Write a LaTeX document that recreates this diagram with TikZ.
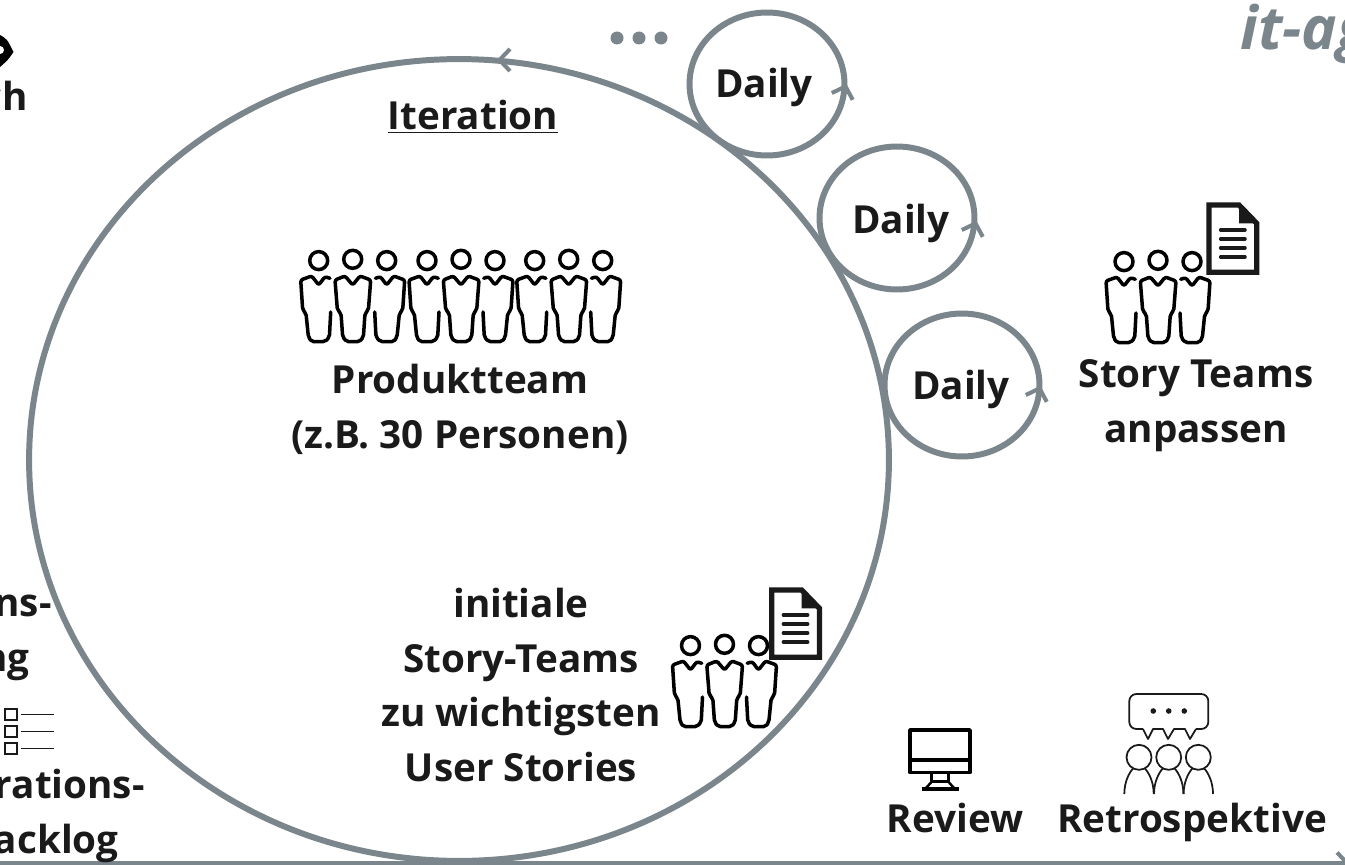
\documentclass[tikz,border=0pt]{standalone}
\usepackage{fontspec}
\setmainfont{Open Sans}
\usetikzlibrary{shapes.geometric}
\definecolor{loopgray}{HTML}{7B858C}
\definecolor{inkblack}{HTML}{1A1A1A}
\tikzset{
	label/.style={font=\fontsize{22}{31.2}\bfseries\selectfont,text=inkblack,align=center,inner sep=0pt},
	loopline/.style={draw=loopgray,line width=3.4pt},
	dailyloop/.style={loopline,ellipse,minimum width=3.1cm,minimum height=2.86cm,inner sep=0pt,outer sep=0pt},
	tipmark/.pic={
		\draw[draw=loopgray,line width=2.3pt,line join=miter] (-11,12) -- (0,1.5) -- (11,12);
	},
	man/.style={draw=black,line width=2pt,line join=round,line cap=round,rounded corners=1.2pt},
	manfull/.pic={
		\draw[man] (0,-25.7) circle [radius=9];
		\draw[man] (-17.7,-5) -- (-7.7,-9) -- (0,0) -- (7.3,-9) -- (18,-5) -- (15.7,25) -- (12.3,28.3) -- (10.7,52) -- (6.7,56.7) -- (-6,56.7) -- (-10,52) -- (-11.7,28.3) -- (-15.3,25) -- cycle;
	},
	manpart/.pic={
		\draw[man] (0,-24.4) circle [radius=9];
		\draw[man] (11.3,-6.7) -- (6.3,-8.3) -- (0,0) -- (-7,-9) -- (-18,-5) -- (-16,25) -- (-12.7,28.3) -- (-10.3,52) -- (-7,56.7) -- (6.3,56.7) -- (10.7,52) -- (12,27);
	},
	teamthree/.pic={
		\pic at (-34,0) {manpart};
		\pic at (0,0) {manfull};
		\pic[xscale=-1] at (34,0) {manpart};
	},
	docsheet/.pic={
		\draw[draw=inkblack,line width=3pt,line join=miter] (0,0) -- (30,0) -- (47.7,18.3) -- (47.7,67.3) -- (0,67.3) -- cycle;
		\fill[inkblack] (30,0) -- (47.7,18.3) -- (30,18.3) -- cycle;
		\foreach \rowy in {25,34,43,52}
			\draw[draw=inkblack,line width=2pt,line cap=round] (11.7,\rowy) -- (36,\rowy);
	}
}
\begin{document}
\begin{tikzpicture}[x=0.02cm,y=-0.02cm]
	\path[use as bounding box,clip] (0,0) rectangle (1345,865);
	\fill[white] (0,0) rectangle (1345,865);

	% loops
	\node[loopline,ellipse,minimum width=17.2cm,minimum height=16.04cm,inner sep=0pt,outer sep=0pt] (iteration) at (459,460) {};
	\node[dailyloop] (daily1) at (767,84) {};
	\node[dailyloop] (daily2) at (897,218) {};
	\node[dailyloop] (daily3) at (962,385) {};

	\pic[rotate=90] at (498,60) {tipmark};
	\pic[rotate=-18] at (846,85) {tipmark};
	\pic[rotate=-18] at (976,222) {tipmark};
	\pic[rotate=-18] at (1040,387) {tipmark};

	\foreach \dotx in {617,639,661}
		\fill[loopgray] (\dotx,38) circle [radius=6.5];

	% time line
	\coordinate (linestart) at (0,863.5);
	\coordinate (lineend) at (1349,863.5);
	\draw[draw=loopgray,line width=2.8pt] (linestart) -- (lineend);
	\pic[rotate=-90] at (lineend) {tipmark};

	% texts
	\node[label,anchor=base] (itertitle) at (473,130) {\underline{Iteration}};
	\node[label,anchor=base] (dailytext1) at (764,98) {Daily};
	\node[label,anchor=base] (dailytext2) at (901,233) {Daily};
	\node[label,anchor=base] (dailytext3) at (961,399) {Daily};
	\node[label] (produkt) at (460,409) {Produktteam\\(z.B. 30 Personen)};
	\node[label] (initial) at (521,685) {initiale\\Story-Teams\\zu wichtigsten\\User Stories};
	\node[label] (anpassen) at (1196,406) {Story Teams\\anpassen};
	\node[label,anchor=base] (review) at (955,832) {Review};
	\node[label,anchor=base] (retro) at (1192,832) {Retrospektive};
	\node[label,anchor=base east] (leftch) at (28,111) {ch};
	\node[label,anchor=base east] (leftns) at (52,616) {ns-};
	\node[label,anchor=base east] (leftng) at (30,671) {ng};
	\node[label,anchor=base east] (leftrat) at (145,798) {rations-};
	\node[label,anchor=base east] (leftack) at (119,853) {acklog};
	\node[anchor=base west,inner sep=0pt,text=loopgray,font=\fontsize{34}{34}\bfseries\itshape\selectfont] (brand) at (1240,50) {it-ag};

	% people
	\pic at (352.7,285) {teamthree};
	\pic at (461,285) {teamthree};
	\pic at (568.7,285) {teamthree};
	\pic at (724.5,670) {teamthree};
	\pic at (1158,286) {teamthree};
	\pic at (771.7,590) {docsheet};
	\pic at (1209,205) {docsheet};

	% eye, cut off at the margin
	\fill[black] (0,35) .. controls (7,39) .. (13.5,52) .. controls (8,60) .. (0,67) -- cycle;
	\fill[white] (0,50) circle [radius=4];

	% checklist
	\foreach \rowy in {709.3,726,743.3} {
		\draw[draw=inkblack,line width=1pt] (5,\rowy) rectangle ++(11.7,10.7);
		\draw[draw=inkblack,line width=0.8pt] (20.7,\rowy+5.2) -- (54,\rowy+5.2);
	}

	% monitor
	\draw[draw=black,line width=2pt,line join=round] (910,730) rectangle (970,772.7);
	\draw[draw=black,line width=2pt] (910,760) -- (970,760);
	\draw[draw=black,line width=2pt] (931.7,772.7) -- (931.7,781.7) -- (948.3,781.7) -- (948.3,772.7);
	\draw[draw=black,line width=1.4pt] (931.7,781.7) -- (926,788) (948.3,781.7) -- (954,788);
	\draw[draw=black,line width=2.2pt] (921.7,789) -- (959,789);

	% retrospective group
	\draw[draw=inkblack,line width=1pt,line join=round,rounded corners=4pt] (1143,729) -- (1129.3,729) -- (1129.3,694) -- (1208.3,694) -- (1208.3,729) -- (1196,729);
	\draw[draw=inkblack,line width=1pt,line join=round] (1143,729) -- (1148,739) -- (1153,729) -- (1163,729) -- (1168,739) -- (1174,729) -- (1185,729) -- (1190,739) -- (1196,729);
	\foreach \dotx in {1153.3,1168.7,1184.3}
		\fill[inkblack] (\dotx,711) circle [radius=2.8];
	\foreach \headx in {1139,1168.7,1198.3} {
		\draw[draw=inkblack,line width=1pt] (\headx,757.3) circle [radius=12.5];
		\draw[draw=inkblack,line width=1pt] (\headx-14.7,794) .. controls (\headx-14.7,782) and (\headx-10,773) .. (\headx-6,768.5);
		\draw[draw=inkblack,line width=1pt] (\headx+14.7,794) .. controls (\headx+14.7,782) and (\headx+10,773) .. (\headx+6,768.5);
	}
\end{tikzpicture}
\end{document}
